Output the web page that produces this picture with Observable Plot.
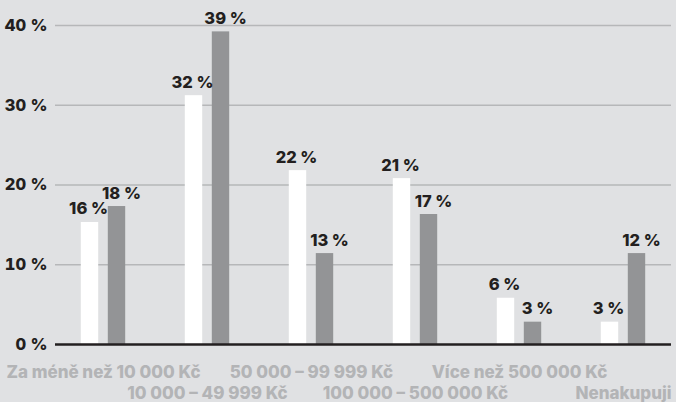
<!DOCTYPE html>
<html>
<head>
<meta charset="utf-8">
<script src="https://cdn.jsdelivr.net/npm/d3@7"></script>
<script src="https://cdn.jsdelivr.net/npm/@observablehq/plot@0.6"></script>
<style>
  html, body { margin: 0; padding: 0; background: #e0e1e3; }
  #chart { width: 676px; height: 402px; }
  svg { display: block; }
</style>
</head>
<body>
<div id="chart"></div>
<script>
const categories = ["Za méně než 10 000 Kč", "10 000 – 49 999 Kč", "50 000 – 99 999 Kč", "100 000 – 500 000 Kč", "Více než 500 000 Kč", "Nenakupuji"];
const seriesA = [15.3, 31.2, 21.8, 20.8, 5.8, 2.8];
const seriesB = [17.3, 39.2, 11.4, 16.3, 2.8, 11.4];
const labelsA = ["16 %", "32 %", "22 %", "21 %", "6 %", "3 %"];
const labelsB = ["18 %", "39 %", "13 %", "17 %", "3 %", "12 %"];
const yTicks = [0, 10, 20, 30, 40];

const dataA = categories.map((c, i) => ({cat: c, value: seriesA[i], label: labelsA[i]}));
const dataB = categories.map((c, i) => ({cat: c, value: seriesB[i], label: labelsB[i]}));
const row1 = categories.filter((c, i) => i % 2 === 0);
const row2 = categories.filter((c, i) => i % 2 === 1);

const font = "Inter, 'Open Sans', sans-serif";
const dark = "#231f20";

const chart = Plot.plot({
  width: 676,
  height: 402,
  marginLeft: 55,
  marginRight: 5,
  marginTop: 25,
  marginBottom: 58,
  style: {background: "#e0e1e3", fontFamily: font, fontWeight: 800},
  x: {domain: categories, range: [49.7, 677.3], padding: 0},
  y: {domain: [0, 40]},
  marks: [
    Plot.ruleY(yTicks.filter(d => d > 0), {stroke: "#b6b7b9", strokeWidth: 1.5}),
    Plot.barY(dataA, {x: "cat", y: "value", fill: "#ffffff", insetLeft: 29.8, insetRight: 56.8}),
    Plot.barY(dataB, {x: "cat", y: "value", fill: "#939496", insetLeft: 56.8, insetRight: 29.8}),
    Plot.ruleY([0], {stroke: dark, strokeWidth: 2.5}),
    Plot.text(dataA, {x: "cat", y: "value", text: "label", dx: -15, dy: -8, lineAnchor: "bottom", fill: dark, fontSize: 16.5, fontWeight: 800}),
    Plot.text(dataB, {x: "cat", y: "value", text: "label", dx: 18, dy: -8, lineAnchor: "bottom", fill: dark, fontSize: 16.5, fontWeight: 800}),
    Plot.axisY({ticks: yTicks, tickSize: 0, tickPadding: 8, tickFormat: d => d + " %", fill: dark, fontSize: 16.5, fontWeight: 800, label: null}),
    Plot.axisX({ticks: row1, tickSize: 0, tickPadding: 21, fill: "#b3b4b6", fontSize: 17, fontWeight: 800, label: null}),
    Plot.axisX({ticks: row2, tickSize: 0, tickPadding: 42, fill: "#b3b4b6", fontSize: 17, fontWeight: 800, label: null})
  ]
});
document.getElementById("chart").appendChild(chart);
</script>
</body>
</html>
